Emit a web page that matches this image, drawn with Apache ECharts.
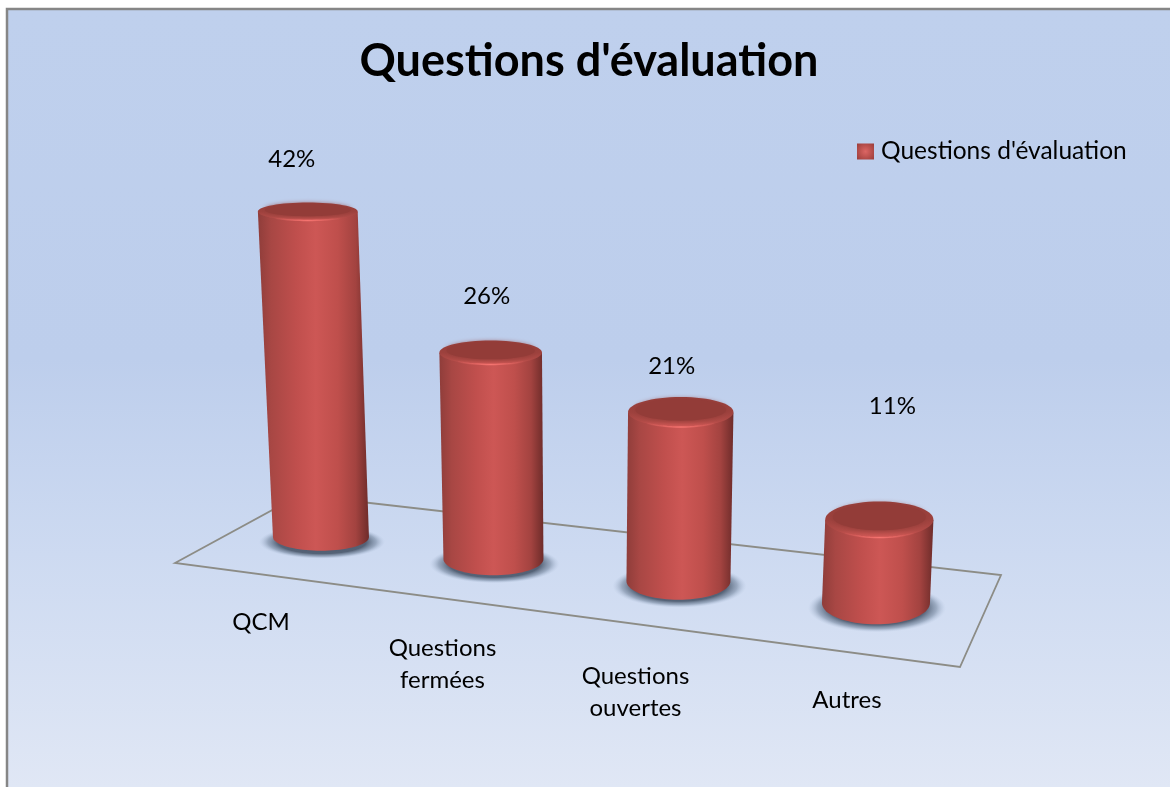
<!DOCTYPE html>
<html><head><meta charset="utf-8">
<style>html,body{margin:0;padding:0;background:#fff}#c{width:1170px;height:787px}</style>
<script src="https://cdn.jsdelivr.net/npm/echarts@6/dist/echarts.min.js"></script>
</head><body><div id="c"></div>
<script>
const titleText = "Questions d'évaluation";
const seriesName = "Questions d'évaluation";
const categories = ["QCM", "Questions\nfermées", "Questions\nouvertes", "Autres"];
const percentValues = [42, 26, 21, 11];

// Layout of the pseudo-3D projection (not data)
const font = 'Lato';
const heightFactor = [1.005, 1.029, 1.042, 0.98];
const labelOffset = [[-16, -53], [-4, -57], [-9, -46], [13, -114]];
const categoryLabelPos = [[-60, 85], [-51, 105], [-43, 111], [-29, 97]];
const floorPoints = [[175, 563], [300, 495], [1001, 575], [960, 667]];

function arc(cx, cy, rx, ry, a0, a1, n) {
  const p = [];
  for (let k = 0; k <= n; k++) {
    const a = a0 + (a1 - a0) * k / n;
    p.push([cx + rx * Math.cos(a), cy + ry * Math.sin(a)]);
  }
  return p;
}
const bodyFill = {type:'linear',x:0,y:0,x2:1,y2:0,colorStops:[
  {offset:0,color:'#8f3d3a'},{offset:.12,color:'#a84744'},{offset:.35,color:'#c04f4d'},
  {offset:.52,color:'#cd5755'},{offset:.72,color:'#bf4f4c'},{offset:.88,color:'#a34340'},{offset:1,color:'#6e2c2a'}]};
const shadowFill = {type:'radial',x:.5,y:.5,r:.5,colorStops:[
  {offset:0,color:'rgba(70,84,104,1)'},{offset:.7,color:'rgba(78,92,112,.95)'},
  {offset:.86,color:'rgba(110,128,152,.55)'},{offset:1,color:'rgba(170,188,215,0)'}]};
const rimFill = {type:'linear',x:0,y:0,x2:0,y2:1,colorStops:[
  {offset:0,color:'#953e3a'},{offset:.5,color:'#9d413d'},{offset:.8,color:'#b04a46'},{offset:.96,color:'#cc5653'},{offset:1,color:'#c9524f'}]};
const glintStroke = {type:'linear',x:0,y:0,x2:1,y2:0,colorStops:[
  {offset:0,color:'rgba(244,112,108,0)'},{offset:.5,color:'rgba(246,116,112,1)'},{offset:1,color:'rgba(244,112,108,0)'}]};

function renderBar(params, api) {
  const i = api.value(0), v = api.value(1);
  const t = i - (categories.length - 1) / 2;
  const zero = api.coord([i, 0]);
  const h = (zero[1] - api.coord([i, v])[1]) * heightFactor[i];
  const bx = zero[0] + 6.25 * t * t, by = zero[1] + 22 * t;
  const tx = bx + 0.027 * t * h, ty = by - h;
  const brx = 51 + 2 * t, bry = 17.5 + 2.5 * t;
  const trx = 52 + 1.4 * t, tryy = 12.5 + 3 * t;
  const body = [[tx - trx, ty]].concat(arc(bx, by, brx, bry, Math.PI, 0, 40)).concat([[tx + trx, ty]]);
  const lab = labelOffset[i], cat = categoryLabelPos[i];
  const srx = brx + 15, sry = bry + 3;
  return {type:'group', children:[
    {type:'circle', x:bx + 1, y:by + 5, scaleY:sry / srx, shape:{cx:0, cy:0, r:srx}, style:{fill:shadowFill}},
    {type:'polygon', shape:{points:body}, style:{fill:bodyFill}},
    {type:'ellipse', shape:{cx:tx, cy:ty - 0.5, rx:trx, ry:tryy + 1}, style:{fill:rimFill}},
    {type:'ellipse', shape:{cx:tx, cy:ty - 1 - tryy * 0.12, rx:trx * 0.86, ry:tryy * 0.78},
      style:{fill:'#933c38', shadowBlur:5, shadowColor:'#933c38'}},
    {type:'polyline', shape:{points:arc(tx, ty - 0.5, trx, tryy + 1, Math.PI * 0.72, Math.PI * 0.28, 16)},
      style:{fill:null, stroke:glintStroke, lineWidth:1.5}},
    {type:'text', style:{text:v + '%', x:tx + lab[0], y:ty + lab[1], align:'center', verticalAlign:'middle',
      font:'24px ' + font, fill:'#000'}},
    {type:'text', style:{text:categories[i], x:bx + cat[0], y:by + cat[1], align:'center', verticalAlign:'middle',
      font:'24px ' + font, lineHeight:32, fill:'#000'}}
  ]};
}

const chart = echarts.init(document.getElementById('c'), null, {renderer:'canvas'});
chart.setOption({
  animation:false,
  backgroundColor:'#fff',
  title:{text:titleText, left:584, top:34, textAlign:'center',
    textStyle:{fontFamily:font, fontWeight:'bold', fontSize:45, color:'#000'}},
  legend:{data:[seriesName], left:852, top:134, itemWidth:17, itemHeight:16,
    icon:'rect',
    itemStyle:{color:{type:'radial',x:.5,y:.5,r:.7,colorStops:[{offset:0,color:'#dc6664'},{offset:1,color:'#9c3e3b'}]}},
    textStyle:{fontFamily:font, fontSize:24.5, color:'#000', padding:[0,0,0,2]}},
  grid:{left:214.4, width:740, top:185, height:385},
  xAxis:{type:'category', data:categories, show:false},
  yAxis:{type:'value', min:0, max:50, show:false},
  graphic:[
    {type:'rect', silent:true, z:-2, shape:{x:7, y:9, width:1163, height:778},
      style:{fill:{type:'linear',x:0,y:0,x2:0,y2:1,colorStops:[
        {offset:0,color:'#bfd0ed'},{offset:.45,color:'#bdceec'},{offset:.7,color:'#cddaf1'},{offset:1,color:'#e0e7f5'}]}}},
    {type:'polyline', silent:true, z:-1, shape:{points:[[7,787],[7,9],[1170,9]]}, style:{fill:null, stroke:'#868686', lineWidth:2.5}},
    {type:'polygon', silent:true, z:0, shape:{points:floorPoints}, style:{fill:null, stroke:'#8c8c86', lineWidth:1.8}}
  ],
  series:[{name:seriesName, type:'custom', renderItem:renderBar, silent:true,
    encode:{x:0, y:1}, clip:false,
    itemStyle:{color:'#c0504d'},
    data:percentValues.map(function (v, i) { return [i, v]; })}]
});
</script></body></html>
